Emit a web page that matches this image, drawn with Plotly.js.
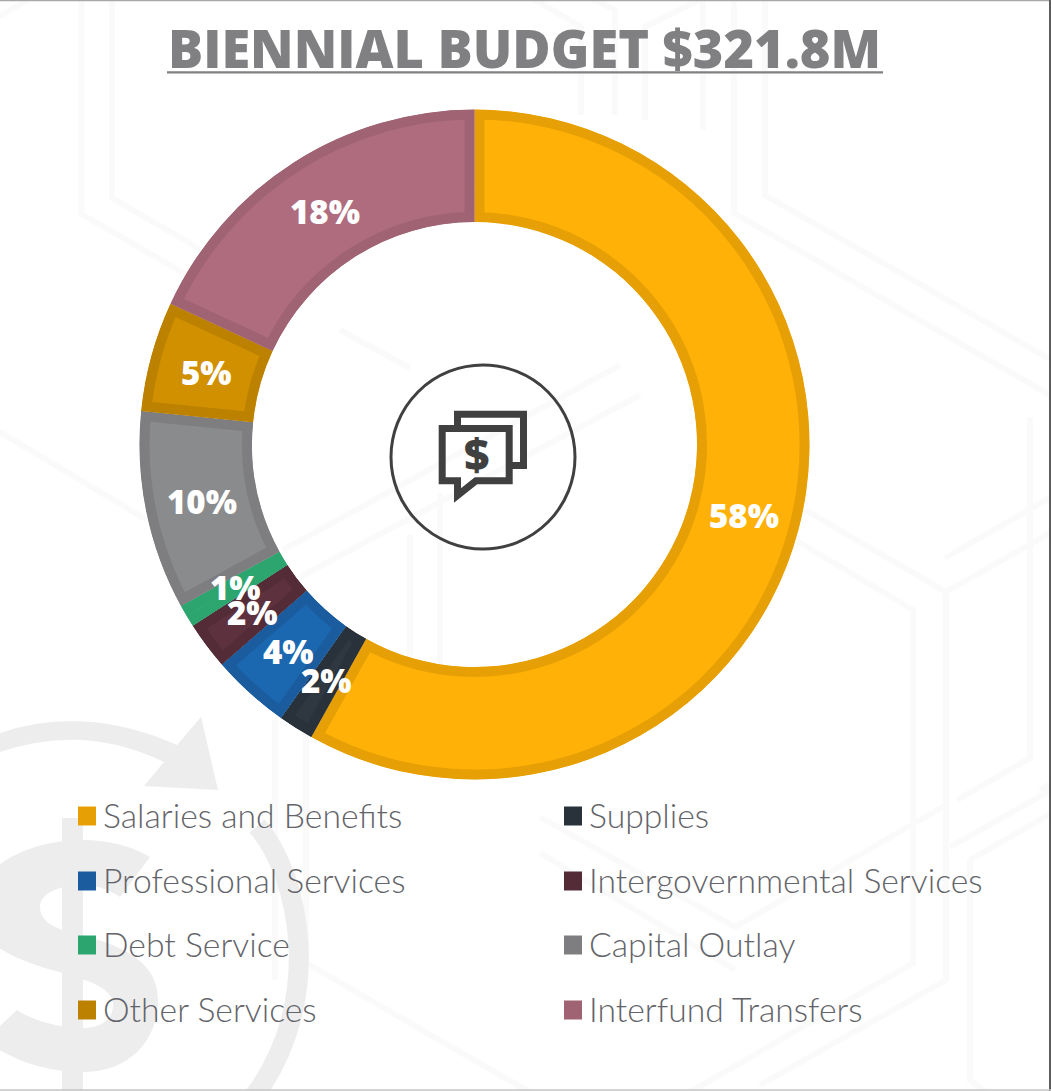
<!DOCTYPE html>
<html>
<head>
<meta charset="utf-8">
<script src="https://cdn.plot.ly/plotly-3.0.1.min.js"></script>
<style>html,body{margin:0;padding:0;background:#fff;overflow:hidden}</style>
</head>
<body>
<div id="chart" style="width:1051px;height:1091px"></div>
<script>
const categories = ["Salaries and Benefits","Supplies","Professional Services","Intergovernmental Services","Debt Service","Capital Outlay","Other Services","Interfund Transfers"];
const shares = [58.1,1.7,3.8,2.3,1.1,9.6,5.3,18.1];
const percentLabels = ["58%","2%","4%","2%","1%","10%","5%","18%"];
const fillColors = ["#FFB107","#2F3841","#1C68B0","#5D323E","#2EAA72","#8A8B8C","#D09000","#B06C7F"];
const edgeColors = ["#E6A005","#29323A","#1A5C9E","#532C38","#2CA56E","#7E7E80","#BD8100","#A06374"];
const titleText = "BIENNIAL BUDGET $321.8M";

const W = 1051, H = 1091;
const CX = 474.5, CY = 444.5, R = 335, RI = 222.5, RLABEL = 278;
const GREY = "#ededed", FAINT = "#fafafa", ICON = "#404041";
const BODY_FONT = "Lato, 'Open Sans', sans-serif";
const HEAVY_FONT = "'Open Sans', Lato, sans-serif";

const fx = x => x / W, fy = y => 1 - y / H;
const toPaper = d => d.replace(/(-?[\d.]+),(-?[\d.]+)/g, (m, x, y) => fx(+x).toFixed(5) + "," + fy(+y).toFixed(5));
const pathShape = (d, o) => Object.assign({type:"path", xref:"paper", yref:"paper", layer:"below", path:toPaper(d)}, o);
const stroke = (d, color, width) => pathShape(d, {line:{color:color, width:width}});
const solid = (d, color) => pathShape(d, {fillcolor:color, line:{width:0}});

const hexLines = [
  "M81.5,-5 L81.5,214 L187,275",
  "M112,-5 L112,198 L205,252",
  "M-5,19 L28,0",
  "M530,-3 L581,27 L581,115",
  "M590,-3 L615,10 L615,115",
  "M705,-3 L645,27 L645,120",
  "M703,-5 L703,130",
  "M734,-5 L734,213 L1060,401",
  "M765,-5 L765,195 L1060,365",
  "M805,510 L946,592 L946,805",
  "M797,541 L913,610 L913,963 L690,1092",
  "M946,592 L1055,530",
  "M945,558 L1055,495",
  "M1030,417 L1030,758 L957,800",
  "M1040,790 L1055,782",
  "M946,805 L946,980 L760,1085",
  "M950,847 L1055,788",
  "M970,860 L1055,811",
  "M970,860 L970,1080 L990,1095",
  "M540,817 L735,927 L946,805",
  "M540,853 L735,970",
  "M275,720 L275,980",
  "M306,720 L306,963 L540,1098",
  "M283,550 L620,365",
  "M300,577 L640,395",
  "M340,330 L410,368",
  "M410,535 L410,770",
  "M440,493 L440,770",
  "M-5,429 L147,520"
];

const shapes = [];
hexLines.forEach(d => shapes.push(stroke(d, FAINT, 6)));
// Background money motif: ring with arrowhead, dollar sign
shapes.push(solid("M0,733 Q85,704 177,745 L201,717 L218,790 L144,786 L164,762 Q85,723 0,752 Z", GREY));
shapes.push(stroke("M257,826 C300,875 325,1000 255,1095", GREY, 20));
shapes.push(solid("M62,818 L83,818 L83,1095 L62,1095 Z", GREY));
shapes.push(solid("M150,857 C130,845 105,840 83,840 C25,840 -25,870 -25,905 C-25,945 15,960 63,973 C95,982 113,990 113,1005 C113,1020 100,1028 83,1028 C62,1028 35,1022 17,1010 L-15,1040 C10,1060 45,1072 83,1072 C130,1072 158,1040 158,1000 C158,955 110,942 63,930 C48,925 40,918 40,907 C40,893 60,885 83,885 C97,885 110,890 120,897 Z", GREY));
// Frame edges
shapes.push(stroke("M0,0.5 L1051,0.5", "#a8a8a8", 1.5));
shapes.push(stroke("M1050,0 L1050,1091", "#5c5c5c", 2));
shapes.push(stroke("M0,1090 L1051,1090", "#c4c4c4", 1.5));
// Title underline
shapes.push(stroke("M167,72.4 L883,72.4", "#808083", 2.4));
// Centre icon
shapes.push({type:"circle", xref:"paper", yref:"paper", layer:"below", x0:fx(391), x1:fx(575), y0:fy(549), y1:fy(365), line:{color:ICON, width:3}});
shapes.push(stroke("M457.5,425 L457.5,414.3 L523.5,414.3 L523.5,465.5 L512,465.5", ICON, 7));
shapes.push(stroke("M442.2,428.5 L509.2,428.5 L509.2,480.7 L476,480.7 L457.5,495.5 L457.5,480.7 L442.2,480.7 Z", ICON, 7));

const annotations = [];
const addText = (text, x, y, size, color, weight, anchor, family) => annotations.push({
  text:text, xref:"paper", yref:"paper", x:fx(x), y:fy(y), xanchor:anchor||"center", yanchor:"middle",
  showarrow:false, font:{family:family||BODY_FONT, size:size, color:color, weight:weight}
});
addText("$", 476, 454, 44, ICON, 800, "center", HEAVY_FONT);

// Legend, two columns filled row by row
const legendColX = [78, 564], legendRowY = [816, 881, 945, 1010];
categories.forEach((name, i) => {
  const x = legendColX[i % 2], y = legendRowY[Math.floor(i / 2)];
  shapes.push({type:"rect", xref:"paper", yref:"paper", layer:"above", x0:fx(x), x1:fx(x+18), y0:fy(y+9.5), y1:fy(y-9.5),
    fillcolor:edgeColors[i], line:{width:0}});
  addText(name, x + 23, y - 1, 33.7, "#636469", 300, "left");
});

// Percent labels sit mid-ring at each slice's middle angle
const total = shares.reduce((a, b) => a + b, 0);
let run = 0;
shares.forEach((v, i) => {
  const a = (run + v / 2) / total * 2 * Math.PI;
  run += v;
  addText(percentLabels[i], CX + RLABEL * Math.sin(a), CY - RLABEL * Math.cos(a) + 1, 33, "#ffffff", 800, "center", HEAVY_FONT);
});

const trace = {
  type:"pie", labels:categories, values:shares, sort:false, direction:"clockwise", rotation:0,
  hole:RI / R, textinfo:"none", hoverinfo:"label+percent",
  domain:{x:[fx(CX - R), fx(CX + R)], y:[fy(CY + R), fy(CY - R)]},
  marker:{colors:fillColors, line:{color:edgeColors, width:20}}
};
const layout = {
  width:W, height:H, margin:{l:0, r:0, t:0, b:0}, showlegend:false,
  paper_bgcolor:"#ffffff", plot_bgcolor:"#ffffff",
  title:{text:titleText, x:fx(524.5), xanchor:"center", y:fy(50), yanchor:"middle",
    font:{family:HEAVY_FONT, size:52.3, color:"#808083", weight:800}},
  shapes:shapes, annotations:annotations
};
Plotly.newPlot("chart", [trace], layout, {displayModeBar:false}).then(gd => {
  // Slice edges are painted inside each slice, so clip the stroke to the slice's own outline
  const svg = gd.querySelector("svg.main-svg");
  const NS = "http://www.w3.org/2000/svg";
  const defs = svg.querySelector("defs") || svg.appendChild(document.createElementNS(NS, "defs"));
  gd.querySelectorAll(".slice path.surface").forEach((p, i) => {
    const cp = document.createElementNS(NS, "clipPath");
    cp.setAttribute("id", "slice-edge-" + i);
    const c = document.createElementNS(NS, "path");
    c.setAttribute("d", p.getAttribute("d"));
    cp.appendChild(c);
    defs.appendChild(cp);
    p.setAttribute("clip-path", "url(#slice-edge-" + i + ")");
  });
});
</script>
</body>
</html>
